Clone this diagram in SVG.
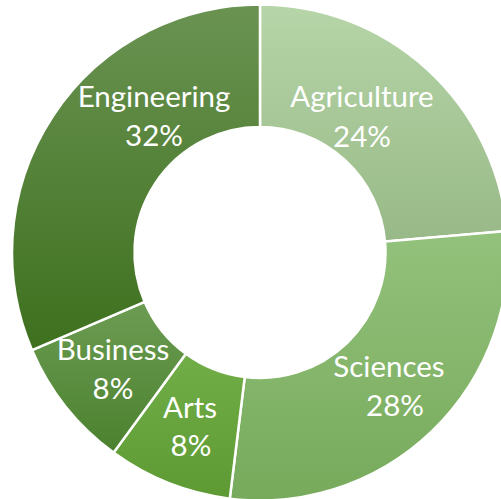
<svg xmlns="http://www.w3.org/2000/svg" width="501" height="499" viewBox="0 0 501 499">
<defs>
<linearGradient id="gAgr" x1="0" y1="0" x2="0" y2="1"><stop offset="0" stop-color="#b6d5a8"/><stop offset="1" stop-color="#98b987"/></linearGradient>
<linearGradient id="gSci" x1="0" y1="0" x2="0" y2="1"><stop offset="0" stop-color="#93c27c"/><stop offset="1" stop-color="#77aa5b"/></linearGradient>
<linearGradient id="gArt" x1="0" y1="0" x2="0" y2="1"><stop offset="0" stop-color="#71ae48"/><stop offset="1" stop-color="#5e9a34"/></linearGradient>
<linearGradient id="gBus" x1="0" y1="0" x2="0" y2="1"><stop offset="0" stop-color="#6c9c53"/><stop offset="1" stop-color="#4b812e"/></linearGradient>
<linearGradient id="gEng" x1="0" y1="0" x2="0" y2="1"><stop offset="0" stop-color="#6a9352"/><stop offset="1" stop-color="#3e701e"/></linearGradient>
</defs>
<style>
.seg{stroke:#ffffff;stroke-width:2.5;stroke-linejoin:miter}
.lbl{font-family:"Lato","Open Sans","Liberation Sans",sans-serif;font-size:29.5px;fill:#ffffff;text-anchor:middle}
</style>
<rect width="501" height="499" fill="#ffffff"/>
<g id="agriculture">
<path class="seg" fill="url(#gAgr)" d="M260,4.5 A248,248 0 0 1 507.06,230.88 L385.02,241.56 A125.5,125.5 0 0 0 260,127 Z"/>
<text class="lbl" x="362" y="107">Agriculture</text>
<text class="lbl" x="362" y="147">24%</text>
</g>
<g id="sciences">
<path class="seg" fill="url(#gSci)" d="M507.06,230.88 A248,248 0 0 1 229.78,498.65 L244.71,377.07 A125.5,125.5 0 0 0 385.02,241.56 Z"/>
<text class="lbl" x="389" y="377">Sciences</text>
<text class="lbl" x="395" y="416">28%</text>
</g>
<g id="arts">
<path class="seg" fill="url(#gArt)" d="M229.78,498.65 A248,248 0 0 1 113.53,452.63 L185.88,353.77 A125.5,125.5 0 0 0 244.71,377.07 Z"/>
<text class="lbl" x="190" y="418">Arts</text>
<text class="lbl" x="191" y="456">8%</text>
</g>
<g id="business">
<path class="seg" fill="url(#gBus)" d="M113.53,452.63 A248,248 0 0 1 32.05,350.2 L144.65,301.94 A125.5,125.5 0 0 0 185.88,353.77 Z"/>
<text class="lbl" x="113" y="360">Business</text>
<text class="lbl" x="113" y="399">8%</text>
</g>
<g id="engineering">
<path class="seg" fill="url(#gEng)" d="M32.05,350.2 A248,248 0 0 1 260,4.5 L260,127 A125.5,125.5 0 0 0 144.65,301.94 Z"/>
<text class="lbl" x="154" y="107">Engineering</text>
<text class="lbl" x="154" y="146">32%</text>
</g>
<g id="connectors"></g>
</svg>
